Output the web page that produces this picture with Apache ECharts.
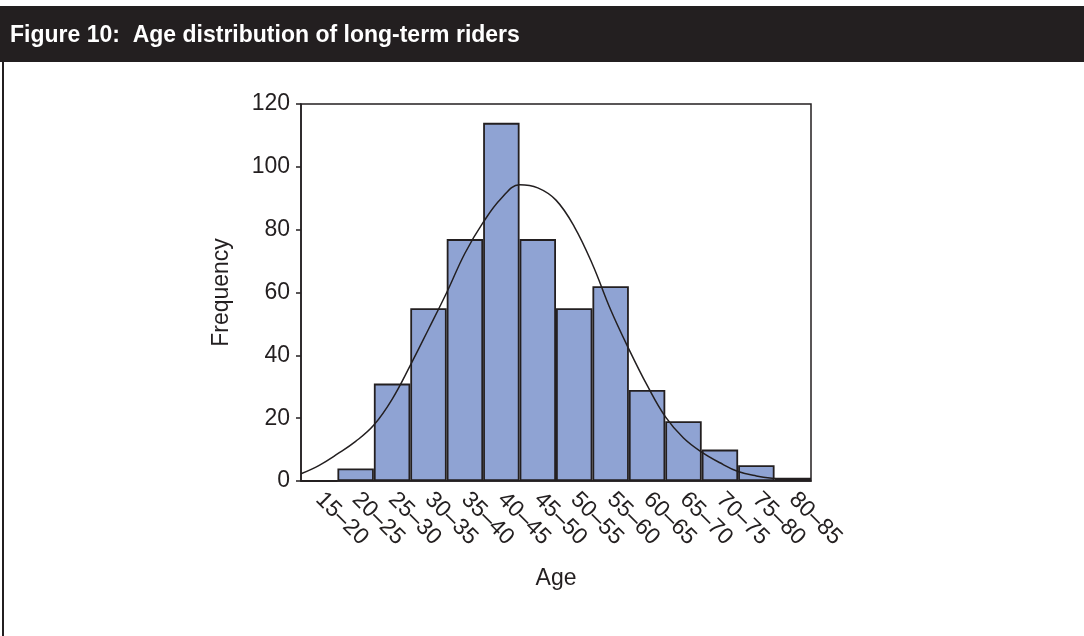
<!DOCTYPE html>
<html>
<head>
<meta charset="utf-8">
<script src="https://cdn.jsdelivr.net/npm/echarts@6/dist/echarts.min.js"></script>
<style>
  html, body { margin: 0; padding: 0; background: #fff; }
  #chart { width: 1084px; height: 636px; }
</style>
</head>
<body>
<div id="chart"></div>
<script>
var dom = document.getElementById("chart");
var myChart = echarts.init(dom);

// age bins (x axis)
var ageBins = ['15–20', '20–25', '25–30', '30–35', '35–40', '40–45', '45–50',
	'50–55', '55–60', '60–65', '65–70', '70–75', '75–80', '80–85'];
// number of riders in each bin
var frequency = [0, 4, 31, 55, 77, 114, 77, 55, 62, 29, 19, 10, 5, 1];
// fitted normal curve: age and frequency
var curveAge = [15, 17.5, 20, 22.5, 25, 27.5, 30, 32.5, 35, 37.5, 40, 42.5, 45, 47.5,
	50, 52.5, 55, 57.5, 60, 62.5, 65, 67.5, 70, 72.5, 75, 77.5, 80, 82.5, 85];
var curveValue = [2.3, 5, 8.6, 12.6, 17.8, 26, 36.8, 48.3, 60, 72.5, 82.3, 90, 94.3, 93.3,
	89.4, 81, 69, 54.5, 42, 30.5, 20.5, 13.7, 9.2, 5.8, 3, 1.6, 0.8, 0.3, 0.2];
var yTicks = [0, 20, 40, 60, 80, 100, 120];

var ink = '#231f20';
var font = 'Liberation Sans, Arial, Helvetica, sans-serif';

var curveData = [];
for (var i = 0; i < curveAge.length; i++) {
	curveData.push([curveAge[i], curveValue[i]]);
}

option = {
	textStyle: { fontFamily: font },
	title: {
		text: 'Figure 10:  Age distribution of long-term riders',
		left: 5,
		top: 19,
		textStyle: { color: '#fff', fontSize: 23, fontWeight: 'bold', fontFamily: font }
	},
	graphic: [
		// dark title band
		{ type: 'rect', z: -1, shape: { x: 0, y: 6, width: 1084, height: 56 }, style: { fill: ink } },
		// left frame line
		{ type: 'rect', shape: { x: 2, y: 62, width: 2, height: 574 }, style: { fill: ink } }
	],
	grid: {
		left: 301,
		right: 273,
		top: 104,
		bottom: 155,
		show: true,
		borderColor: ink,
		borderWidth: 1.5
	},
	xAxis: [{
		type: 'category',
		data: ageBins,
		boundaryGap: true,
		name: 'Age',
		nameLocation: 'middle',
		nameGap: 86,
		nameTextStyle: { color: ink, fontSize: 23, fontFamily: font },
		axisLine: { lineStyle: { color: ink, width: 1.5 } },
		axisTick: { alignWithLabel: true, length: 5, lineStyle: { color: ink, width: 1.5 } },
		axisLabel: { rotate: -45, margin: 15, fontSize: 23, color: ink, interval: 0 }
	}, {
		type: 'value',
		min: 15,
		max: 85,
		show: false
	}],
	yAxis: {
		type: 'value',
		min: 0,
		max: 120,
		interval: 20,
		name: 'Frequency',
		nameLocation: 'middle',
		nameGap: 68,
		nameTextStyle: { color: ink, fontSize: 23, fontFamily: font },
		splitLine: { show: false },
		axisLine: { show: true, lineStyle: { color: ink, width: 1.5 } },
		axisTick: { show: true, length: 5, lineStyle: { color: ink, width: 1.5 } },
		axisLabel: {
			margin: 11, fontSize: 23, color: ink,
			formatter: function (v) { return yTicks.indexOf(v) >= 0 ? String(v) : ''; }
		}
	},
	series: [{
		type: 'bar',
		data: frequency,
		barCategoryGap: 0,
		itemStyle: { color: '#8fa3d3', borderColor: ink, borderWidth: 1.8 }
	}, {
		type: 'line',
		xAxisIndex: 1,
		data: curveData,
		smooth: 0.4,
		showSymbol: false,
		lineStyle: { color: ink, width: 1.5 },
		z: 3
	}]
};
myChart.setOption(option, true);
</script>
</body>
</html>
